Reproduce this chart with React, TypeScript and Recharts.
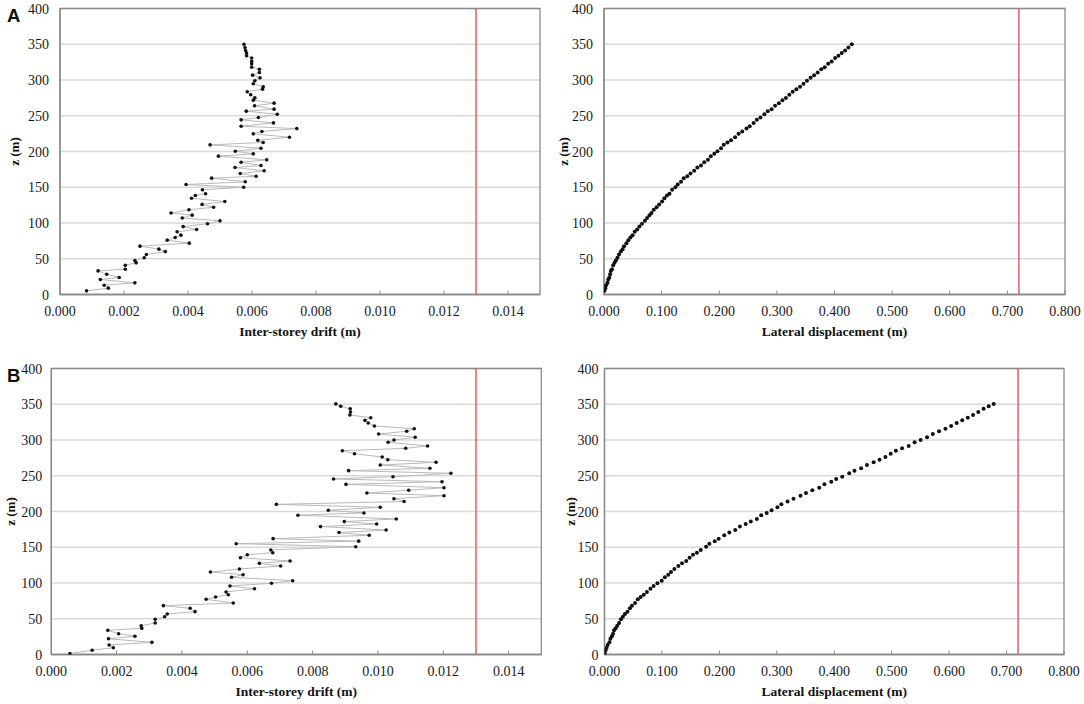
import React from 'react';
import {
  ScatterChart,
  Scatter,
  XAxis,
  YAxis,
  CartesianGrid,
  ReferenceLine,
  ReferenceArea,
  Label,
} from 'recharts';

// ---------- data ----------
const zA = [5.1, 8.9, 13, 16.3, 21, 23.8, 28.4, 33, 35.4, 41, 44.3, 47.5, 51.3, 56, 60, 63.4, 67.6, 71.8, 76, 79.7, 83, 87.7, 91, 95, 98.9, 103, 107, 111, 114, 118.5, 122, 126, 130, 134.7, 138.5, 141, 146.4, 150, 153.8, 157.6, 162.7, 165.4, 169.2, 173, 177.6, 180.4, 185, 188.3, 193.5, 196.7, 200.4, 204.6, 209.3, 212.6, 215.8, 220, 224.7, 228, 232, 235.4, 240, 244.3, 247.5, 252.2, 256.4, 259.2, 263.9, 267.6, 271.8, 275, 279.3, 283.5, 287.2, 290.5, 294.7, 299, 303, 306.8, 310.5, 315, 318, 322.7, 326, 330.7, 334, 337.7, 341.3, 345.5, 350];

const driftA = [0.00083, 0.00151, 0.00138, 0.00234, 0.00126, 0.00185, 0.00146, 0.00119, 0.00204, 0.00204, 0.00238, 0.00234, 0.00263, 0.0027, 0.00329, 0.00309, 0.0025, 0.00404, 0.00335, 0.0036, 0.00378, 0.00366, 0.00427, 0.00385, 0.00461, 0.005, 0.00382, 0.00413, 0.00347, 0.00403, 0.0048, 0.00444, 0.00515, 0.00411, 0.00423, 0.00455, 0.00445, 0.00574, 0.00394, 0.00579, 0.00474, 0.00613, 0.00563, 0.00638, 0.00547, 0.00628, 0.00566, 0.00646, 0.00495, 0.00604, 0.00548, 0.00628, 0.00469, 0.00635, 0.00618, 0.00717, 0.00604, 0.00631, 0.0074, 0.00566, 0.00667, 0.00566, 0.0062, 0.00679, 0.00582, 0.00669, 0.00608, 0.00669, 0.00604, 0.00609, 0.00596, 0.00585, 0.00633, 0.00635, 0.00604, 0.00609, 0.00625, 0.00602, 0.00623, 0.00623, 0.00599, 0.00599, 0.00599, 0.00599, 0.00583, 0.00583, 0.0058, 0.00578, 0.00575];

const dispA = [0.0008, 0.0023, 0.0037, 0.0061, 0.0073, 0.0092, 0.0106, 0.0118, 0.0139, 0.0159, 0.0183, 0.0206, 0.0233, 0.026, 0.0292, 0.0323, 0.0348, 0.0389, 0.0422, 0.0458, 0.0496, 0.0533, 0.0575, 0.0614, 0.066, 0.071, 0.0748, 0.0789, 0.0824, 0.0864, 0.0912, 0.0957, 0.1008, 0.1049, 0.1092, 0.1137, 0.1182, 0.1239, 0.1279, 0.1336, 0.1384, 0.1445, 0.1501, 0.1565, 0.162, 0.1683, 0.1739, 0.1804, 0.1853, 0.1914, 0.1969, 0.2031, 0.2078, 0.2142, 0.2204, 0.2275, 0.2336, 0.2399, 0.2473, 0.2529, 0.2596, 0.2653, 0.2715, 0.2783, 0.2841, 0.2908, 0.2969, 0.3035, 0.3096, 0.3157, 0.3216, 0.3275, 0.3338, 0.3402, 0.3462, 0.3523, 0.3585, 0.3646, 0.3708, 0.377, 0.383, 0.389, 0.395, 0.401, 0.4068, 0.4126, 0.4184, 0.4242, 0.43];

const zB = [1.5, 5.9, 9.5, 13.3, 17, 22, 25.5, 29, 33.8, 36.6, 40.3, 44, 49.2, 52.9, 56.6, 59.9, 64.6, 68.3, 72, 77.2, 80.4, 83.6, 87.4, 92, 95.8, 99.6, 103.2, 108, 111.6, 115.4, 119.6, 123.8, 127.5, 130.8, 135.4, 139.6, 142.4, 146.2, 150.8, 155, 158.5, 162, 166.7, 170.6, 174.1, 178.9, 182.5, 185.9, 189.6, 194.8, 198, 201.7, 205.9, 210, 214, 217.9, 222.1, 225.9, 229.7, 233.3, 238, 241.7, 245.5, 248.7, 253.4, 257.1, 260.4, 265, 268.8, 272.4, 276.2, 280.8, 285, 288.4, 291.6, 296.8, 300, 303.8, 308.4, 312.2, 315.8, 319.6, 323.8, 327.5, 331.2, 335, 339, 343.6, 347.1, 350.5];

const driftB = [0.00057, 0.00125, 0.0019, 0.00177, 0.00308, 0.00175, 0.00256, 0.00206, 0.00173, 0.00277, 0.00275, 0.00318, 0.00318, 0.00347, 0.00355, 0.0044, 0.00425, 0.00343, 0.00557, 0.00474, 0.00503, 0.00542, 0.00535, 0.00622, 0.00547, 0.00674, 0.00739, 0.00552, 0.00587, 0.00487, 0.00576, 0.00702, 0.00637, 0.00731, 0.00579, 0.006, 0.00678, 0.00672, 0.00932, 0.00566, 0.00941, 0.00679, 0.00973, 0.00881, 0.01025, 0.00824, 0.00996, 0.00897, 0.01056, 0.00755, 0.00957, 0.00848, 0.01007, 0.00689, 0.0108, 0.01049, 0.01202, 0.00966, 0.01094, 0.01202, 0.00902, 0.01196, 0.00864, 0.01046, 0.01223, 0.0091, 0.01159, 0.01007, 0.01178, 0.0103, 0.01013, 0.00928, 0.00891, 0.01085, 0.01152, 0.01031, 0.01049, 0.01114, 0.01002, 0.01088, 0.01111, 0.00989, 0.0097, 0.0096, 0.00978, 0.00914, 0.00916, 0.00915, 0.00886, 0.00871];

const dispB = [0.0006, 0.0018, 0.0037, 0.0055, 0.0086, 0.0103, 0.0129, 0.0149, 0.0167, 0.0194, 0.0222, 0.0254, 0.0286, 0.032, 0.0356, 0.04, 0.0442, 0.0477, 0.0532, 0.058, 0.063, 0.0684, 0.0738, 0.08, 0.0855, 0.0922, 0.0996, 0.1051, 0.111, 0.1158, 0.1216, 0.1286, 0.135, 0.1423, 0.1481, 0.1541, 0.1609, 0.1676, 0.1769, 0.1826, 0.192, 0.1988, 0.2085, 0.2173, 0.2276, 0.2358, 0.2458, 0.2547, 0.2653, 0.2728, 0.2824, 0.2909, 0.301, 0.3079, 0.3187, 0.3291, 0.3412, 0.3508, 0.3618, 0.3738, 0.3828, 0.3948, 0.4034, 0.4139, 0.4261, 0.4352, 0.4468, 0.4569, 0.4686, 0.4789, 0.4891, 0.4983, 0.5073, 0.5181, 0.5296, 0.5399, 0.5504, 0.5616, 0.5716, 0.5825, 0.5936, 0.6035, 0.6132, 0.6228, 0.6325, 0.6417, 0.6508, 0.66, 0.6689, 0.6776];

const zTicks = [0, 50, 100, 150, 200, 250, 300, 350, 400];
const driftTicks = [0, 0.002, 0.004, 0.006, 0.008, 0.01, 0.012, 0.014];
const dispTicks = [0, 0.1, 0.2, 0.3, 0.4, 0.5, 0.6, 0.7, 0.8];
const driftMax = 0.015;
const dispMax = 0.8;
const driftLimit = 0.013;
const dispLimit = 0.72;

const toRows = (xs: number[], zs: number[]) => zs.map((z, i) => ({ x: xs[i], z }));

// ---------- styling ----------
const SERIF = 'Liberation Serif, Times New Roman, serif';
const AXIS = '#8a8a8a';
const GRID = '#d9d9d9';
const RED = '#dd5555';

const makeDot = (r: number) => (p: any) => <circle cx={p.cx} cy={p.cy} r={r} fill="#111" />;

const XTick = (p: any) => (
  <text x={p.x} y={p.y} dy={10} textAnchor="middle" fontFamily={SERIF} fontSize={14} fill="#1a1a1a">
    {Number(p.payload.value).toFixed(3)}
  </text>
);

const makeYTick = (gap: number) => (p: any) => (
  <text x={p.x - gap} y={p.y} dy={5} textAnchor="end" fontFamily={SERIF} fontSize={14} fill="#1a1a1a">
    {p.payload.value}
  </text>
);

const XTitle = (text: string) => (p: any) => {
  const vb = p.viewBox || {};
  return (
    <text
      x={vb.x + vb.width / 2}
      y={vb.y + 41}
      textAnchor="middle"
      fontFamily={SERIF}
      fontSize={13.5}
      fontWeight="bold"
      fill="#111"
    >
      {text}
    </text>
  );
};

const YTitle = (cx: number) => (p: any) => {
  const vb = p.viewBox || {};
  const cy = vb.y + vb.height / 2;
  return (
    <text
      x={cx}
      y={cy}
      transform={`rotate(-90, ${cx}, ${cy})`}
      dy={4.5}
      textAnchor="middle"
      fontFamily={SERIF}
      fontSize={13}
      fontWeight="bold"
      fill="#111"
    >
      z (m)
    </text>
  );
};

type PanelProps = {
  left: number;
  top: number;
  width: number;
  yAxisWidth: number;
  marginRight: number;
  rows: { x: number; z: number }[];
  xMax: number;
  xTicks: number[];
  limit: number;
  xTitle: string;
  yTitleX: number;
  yTickGap: number;
  withLine: boolean;
};

const H = 345;
const XAXIS_H = 50;

function Panel(p: PanelProps) {
  return (
    <div style={{ position: 'absolute', left: p.left, top: p.top, width: p.width, height: H, fontFamily: SERIF }}>
      <ScatterChart
        width={p.width}
        height={H}
        margin={{ top: 8.5, right: p.marginRight, bottom: H - 8.5 - 286 - XAXIS_H, left: 0 }}
      >
        <CartesianGrid horizontal vertical={false} stroke={GRID} strokeWidth={1.4} />
        <XAxis
          type="number"
          dataKey="x"
          domain={[0, p.xMax]}
          ticks={p.xTicks}
          allowDataOverflow
          height={XAXIS_H}
          tick={<XTick />}
          tickSize={-4}
          tickMargin={15.9}
          tickLine={{ stroke: AXIS }}
          axisLine={{ stroke: AXIS, strokeWidth: 1.3 }}
          interval={0}
        >
          <Label content={XTitle(p.xTitle)} />
        </XAxis>
        <YAxis
          type="number"
          dataKey="z"
          domain={[0, 400]}
          ticks={zTicks}
          allowDataOverflow
          width={p.yAxisWidth}
          tick={makeYTick(p.yTickGap)}
          tickSize={0}
          tickMargin={0}
          tickLine={false}
          axisLine={{ stroke: AXIS, strokeWidth: 1.3 }}
          interval={0}
        >
          <Label content={YTitle(p.yTitleX)} />
        </YAxis>
        <ReferenceArea
          x1={0}
          x2={p.xMax}
          y1={0}
          y2={400}
          fill="none"
          fillOpacity={0}
          stroke={AXIS}
          strokeWidth={1.3}
          strokeOpacity={1}
        />
        <ReferenceLine x={p.limit} stroke={RED} strokeWidth={1.4} />
        <Scatter
          data={p.rows}
          isAnimationActive={false}
          line={p.withLine ? { stroke: '#b9b9b9', strokeWidth: 1 } : false}
          shape={makeDot(p.withLine ? 1.8 : 2)}
        />
      </ScatterChart>
    </div>
  );
}

export default function App() {
  return (
    <div style={{ position: 'absolute', left: 0, top: 0, width: 1084, height: 704, background: '#fff', overflow: 'hidden' }}>
      <Panel
        left={0}
        top={0}
        width={550}
        yAxisWidth={60}
        marginRight={10}
        rows={toRows(driftA, zA)}
        xMax={driftMax}
        xTicks={driftTicks}
        limit={driftLimit}
        xTitle="Inter-storey drift (m)"
        yTitleX={14}
        yTickGap={11}
        withLine
      />
      <Panel
        left={550}
        top={0}
        width={534}
        yAxisWidth={54}
        marginRight={19}
        rows={toRows(dispA, zA)}
        xMax={dispMax}
        xTicks={dispTicks}
        limit={dispLimit}
        xTitle="Lateral displacement (m)"
        yTitleX={13.5}
        yTickGap={11}
        withLine={false}
      />
      <Panel
        left={0}
        top={360}
        width={550}
        yAxisWidth={51.3}
        marginRight={8.7}
        rows={toRows(driftB, zB)}
        xMax={driftMax}
        xTicks={driftTicks}
        limit={driftLimit}
        xTitle="Inter-storey drift (m)"
        yTitleX={10}
        yTickGap={9}
        withLine
      />
      <Panel
        left={550}
        top={360}
        width={534}
        yAxisWidth={54.5}
        marginRight={20}
        rows={toRows(dispB, zB)}
        xMax={dispMax}
        xTicks={dispTicks}
        limit={dispLimit}
        xTitle="Lateral displacement (m)"
        yTitleX={20}
        yTickGap={6}
        withLine={false}
      />
      <svg width={1084} height={704} style={{ position: 'absolute', left: 0, top: 0, pointerEvents: 'none' }}>
        <text x={7} y={21.5} fontFamily="Liberation Sans, Arial, sans-serif" fontWeight="bold" fontSize={18.5} fill="#111">
          A
        </text>
        <text x={7} y={381.5} fontFamily="Liberation Sans, Arial, sans-serif" fontWeight="bold" fontSize={18.5} fill="#111">
          B
        </text>
      </svg>
    </div>
  );
}
